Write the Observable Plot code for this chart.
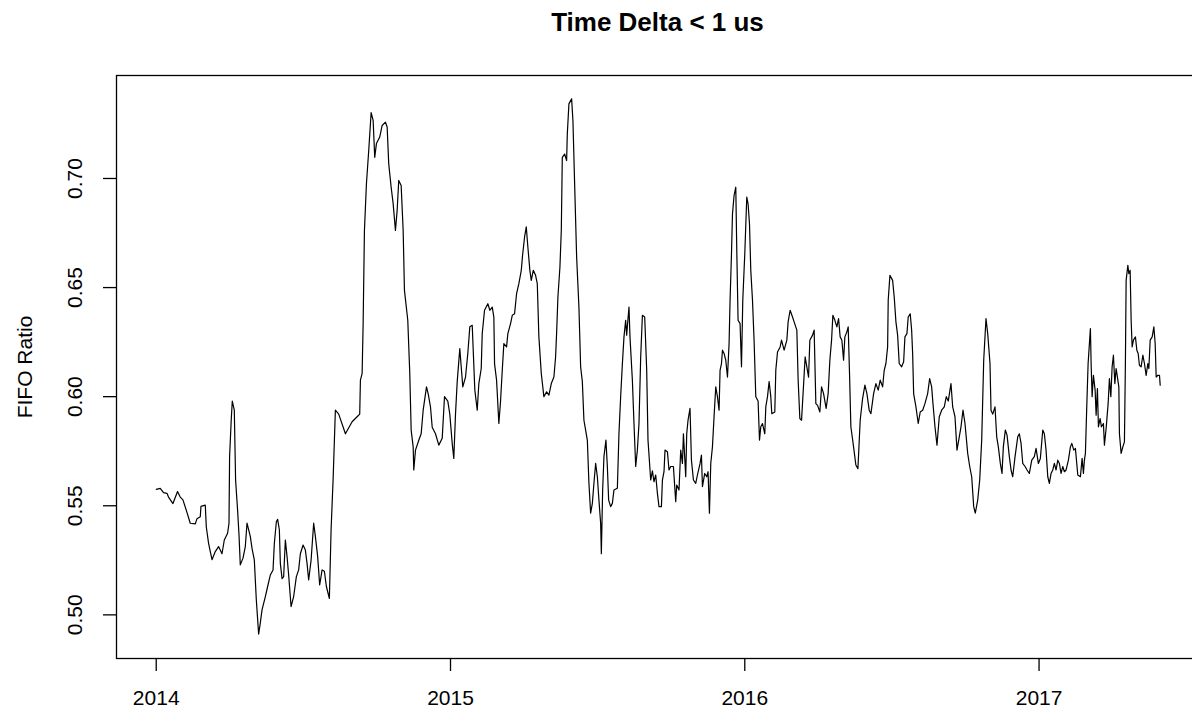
<!DOCTYPE html>
<html>
<head>
<meta charset="utf-8">
<script src="https://cdn.jsdelivr.net/npm/d3@7"></script>
<script src="https://cdn.jsdelivr.net/npm/@observablehq/plot@0.6"></script>
<style>
  html, body { margin: 0; padding: 0; background: #fff; overflow: hidden; }
  #title { box-sizing: border-box; width: 1192px; height: 50px; padding-left: 123px;
    text-align: center; font: bold 26px "Liberation Sans", Arial, sans-serif; line-height: 44px; color: #000; }
  svg { overflow: hidden; }
</style>
</head>
<body>
<div id="title">Time Delta &lt; 1 us</div>
<div id="chart"></div>
<script>
const chartTitle = "Time Delta < 1 us";
const yLabel = "FIFO Ratio";
const xTicks = [2014, 2015, 2016, 2017];
const yTicks = [0.50, 0.55, 0.60, 0.65, 0.70];
const startYear = 2014;

// time in years after 1 Jan 2014
const yearOffset = [
  0, .0136, .0248, .0364, .0418, .0568, .0724, .0816, .0908, .1044,
  .1156, .1327, .1384, .1497, .1520, .1667, .1701, .1779, .1895, .2007,
  .2119, .2235, .2313, .2425, .2473, .2493, .2551, .2585, .2653, .2697,
  .2765, .2813, .2857, .2949, .3027, .3085, .3197, .3255, .3333, .3401,
  .3480, .3537, .3595, .3708, .3786, .3878, .3969, .4014, .4082, .4126,
  .4184, .4218, .4276, .4330, .4388, .4446, .4500, .4582, .4670, .4762,
  .4840, .4898, .4990, .5068, .5126, .5180, .5262, .5350, .5408, .5486,
  .5554, .5636, .5714, .5782, .5884, .5942, .6010, .6088, .6201, .6429,
  .6656, .6827, .6915, .6939, .6997, .7031, .7075, .7143, .7221, .7303,
  .7371, .7425, .7483, .7595, .7677, .7789, .7847, .7901, .7983, .8051,
  .8129, .8187, .8241, .8323, .8391, .8435, .8548, .8616, .8663, .8731,
  .8752, .8810, .8922, .9003, .9071, .9184, .9242, .9320, .9378, .9490,
  .9602, .9718, .9796, .9908, .9976, 1.0058, 1.0112, 1.0170, 1.0228, 1.0316,
  1.0364, 1.0418, 1.0510, 1.0588, 1.0656, 1.0738, 1.0772, 1.0827, 1.0908, 1.0963,
  1.1044, 1.1078, 1.1156, 1.1269, 1.1337, 1.1418, 1.1473, 1.1497, 1.1565, 1.1643,
  1.1701, 1.1759, 1.1813, 1.1905, 1.1949, 1.2041, 1.2099, 1.2177, 1.2245, 1.2323,
  1.2405, 1.2449, 1.2517, 1.2575, 1.2629, 1.2697, 1.2745, 1.2813, 1.2891, 1.2949,
  1.3003, 1.3085, 1.3173, 1.3265, 1.3344, 1.3425, 1.3514, 1.3571, 1.3605, 1.3650,
  1.3718, 1.3765, 1.3799, 1.3878, 1.3946, 1.3969, 1.4024, 1.4116, 1.4160, 1.4218,
  1.4286, 1.4364, 1.4422, 1.4480, 1.4534, 1.4592, 1.4650, 1.4704, 1.4762, 1.4820,
  1.4874, 1.4932, 1.4990, 1.5044, 1.5102, 1.5126, 1.5170, 1.5214, 1.5282, 1.5330,
  1.5374, 1.5442, 1.5500, 1.5554, 1.5670, 1.5724, 1.5782, 1.5840, 1.5895, 1.5952,
  1.5986, 1.6065, 1.6099, 1.6180, 1.6235, 1.6293, 1.6350, 1.6405, 1.6463, 1.6521,
  1.6599, 1.6667, 1.6711, 1.6803, 1.6861, 1.6915, 1.6973, 1.7031, 1.7085, 1.7167,
  1.7201, 1.7255, 1.7289, 1.7371, 1.7425, 1.7483, 1.7575, 1.7619, 1.7653, 1.7687,
  1.7765, 1.7823, 1.7881, 1.7915, 1.7970, 1.7993, 1.8027, 1.8071, 1.8139, 1.8187,
  1.8255, 1.8333, 1.8391, 1.8480, 1.8527, 1.8561, 1.8639, 1.8707, 1.8752, 1.8799,
  1.8844, 1.8901, 1.8956, 1.9014, 1.9071, 1.9126, 1.9160, 1.9208, 1.9242, 1.9296,
  1.9354, 1.9412, 1.9466, 1.9500, 1.9548, 1.9582, 1.9636, 1.9694, 1.9728, 1.9772,
  1.9840, 1.9888, 1.9932, 2.0000, 2.0068, 2.0112, 2.0160, 2.0204, 2.0262, 2.0316,
  2.0374, 2.0452, 2.0500, 2.0544, 2.0602, 2.0680, 2.0714, 2.0772, 2.0827, 2.0884,
  2.0918, 2.1020, 2.1054, 2.1112, 2.1201, 2.1248, 2.1337, 2.1429, 2.1473, 2.1541,
  2.1622, 2.1677, 2.1769, 2.1813, 2.1871, 2.1929, 2.1997, 2.2051, 2.2109, 2.2167,
  2.2211, 2.2303, 2.2357, 2.2415, 2.2473, 2.2551, 2.2609, 2.2677, 2.2765, 2.2833,
  2.2891, 2.2949, 2.2993, 2.3061, 2.3129, 2.3187, 2.3241, 2.3299, 2.3357, 2.3401,
  2.3469, 2.3514, 2.3561, 2.3605, 2.3697, 2.3775, 2.3844, 2.3922, 2.4003, 2.4082,
  2.4150, 2.4228, 2.4286, 2.4378, 2.4456, 2.4534, 2.4602, 2.4684, 2.4738, 2.4796,
  2.4854, 2.4874, 2.4932, 2.5024, 2.5078, 2.5136, 2.5194, 2.5248, 2.5330, 2.5398,
  2.5442, 2.5510, 2.5554, 2.5622, 2.5670, 2.5704, 2.5738, 2.5816, 2.5894, 2.5962,
  2.6044, 2.6122, 2.6214, 2.6282, 2.6350, 2.6395, 2.6463, 2.6531, 2.6609, 2.6690,
  2.6779, 2.6847, 2.6915, 2.7007, 2.7065, 2.7143, 2.7211, 2.7289, 2.7347, 2.7415,
  2.7483, 2.7575, 2.7643, 2.7711, 2.7779, 2.7833, 2.7915, 2.7983, 2.8051, 2.8119,
  2.8197, 2.8255, 2.8333, 2.8367, 2.8425, 2.8503, 2.8561, 2.8616, 2.8684, 2.8741,
  2.8786, 2.8854, 2.8912, 2.8990, 2.9048, 2.9105, 2.9184, 2.9276, 2.9330, 2.9388,
  2.9446, 2.9524, 2.9592, 2.9670, 2.9752, 2.9840, 2.9898, 2.9976, 3.0044, 3.0126,
  3.0180, 3.0238, 3.0296, 3.0350, 3.0408, 3.0466, 3.0520, 3.0578, 3.0636, 3.0690,
  3.0748, 3.0806, 3.0861, 3.0918, 3.0997, 3.1065, 3.1112, 3.1180, 3.1235, 3.1316,
  3.1405, 3.1463, 3.1507, 3.1541, 3.1575, 3.1622, 3.1667, 3.1711, 3.1745, 3.1769,
  3.1803, 3.1847, 3.1905, 3.1939, 3.1983, 3.2017, 3.2075, 3.2119, 3.2187, 3.2221,
  3.2279, 3.2347, 3.2391, 3.2439, 3.2483, 3.2527, 3.2575, 3.2619, 3.2663, 3.2711,
  3.2731, 3.2789, 3.2847, 3.2901, 3.2935, 3.2959, 3.3017, 3.3051, 3.3095, 3.3129,
  3.3163, 3.3207, 3.3275, 3.3323, 3.3367, 3.3411, 3.3469, 3.3527, 3.3581, 3.3639,
  3.3697, 3.3731, 3.3776, 3.3844, 3.3901, 3.3946, 3.3980, 3.4038, 3.4092, 3.4116
];

const fifoRatio = [
  .5575, .558, .556, .5557, .554, .551, .5565, .554, .5527, .547,
  .542, .5417, .544, .545, .5497, .5503, .5404, .5328, .5253, .529,
  .5313, .528, .5343, .5374, .542, .5725, .590, .598, .5938, .5618,
  .548, .5366, .5229, .526, .5313, .542, .536, .5305, .5252, .5069,
  .4912, .4963, .5023, .5084, .513, .5183, .5206, .5328, .5427, .5438,
  .539, .5235, .5166, .5175, .5343, .5267, .5183, .5038, .5084, .5175,
  .5206, .528, .532, .5297, .5235, .516, .525, .542, .536, .5267,
  .5137, .5206, .520, .513, .5075, .539, .5618, .5938, .592, .583,
  .5885, .5908, .592, .6076, .6107, .6335, .6762, .6976, .7128, .7302,
  .7266, .7097, .716, .719, .7243, .7258, .7236, .7067, .696, .6885,
  .6762, .6854, .6991, .6968, .6762, .6487, .635, .6106, .5847, .577,
  .5664, .5755, .580, .583, .5938, .6045, .6013, .5953, .586, .583,
  .5778, .5809, .600, .598, .592, .5786, .5717, .592, .6069, .622,
  .6137, .6045, .609, .6198, .632, .6327, .6213, .603, .5938, .606,
  .6129, .6289, .6396, .6426, .6396, .641, .6365, .615, .6076, .5877,
  .598, .6121, .6243, .6228, .6289, .6335, .6373, .638, .6472, .6518,
  .6579, .6648, .6732, .6778, .6686, .6579, .6533, .6579, .6556, .6518,
  .6274, .6106, .600, .6022, .6007, .606, .609, .6182, .6289, .6457,
  .6593, .6762, .7097, .7112, .7082, .7204, .7342, .7365, .7266, .6976,
  .664, .6411, .6137, .6069, .5892, .5847, .580, .5603, .5466, .5511,
  .5603, .5694, .5633, .5526, .542, .528, .5572, .5725, .5801, .568,
  .5526, .5496, .5511, .5572, .558, .583, .600, .615, .6274, .635,
  .6282, .6411, .6274, .6076, .5877, .568, .5755, .5877, .6182, .6373,
  .6365, .6121, .5801, .5618, .566, .561, .5641, .5557, .5496, .5496,
  .5618, .5656, .5755, .5748, .5664, .568, .568, .5588, .5519, .5595,
  .5572, .5755, .5694, .583, .5694, .5633, .583, .5892, .5946, .5709,
  .5618, .5603, .5641, .5694, .5732, .5588, .5648, .5633, .5656, .5466,
  .5694, .577, .5908, .6045, .600, .5938, .6121, .6152, .6213, .6198,
  .6167, .609, .6243, .6442, .6655, .6838, .6922, .696, .6671, .635,
  .6335, .6137, .6442, .6655, .6915, .6884, .6792, .6579, .6442, .6259,
  .600, .598, .5801, .5862, .5877, .583, .5953, .600, .6069, .600,
  .5922, .593, .6121, .6205, .6228, .6259, .6213, .6259, .6343, .6396,
  .6365, .6343, .6305, .6076, .590, .5892, .6053, .6182, .6137, .609,
  .6259, .6282, .6305, .5968, .596, .593, .6045, .6014, .5946, .6014,
  .6167, .6259, .6373, .635, .632, .6358, .6274, .6259, .6167, .6274,
  .6297, .632, .6098, .5862, .577, .5687, .567, .5892, .5991, .6053,
  .6014, .5938, .5922, .6014, .606, .603, .6076, .6045, .6121, .6152,
  .6228, .6442, .6556, .6533, .6457, .6343, .6282, .6152, .6137, .616,
  .6274, .6289, .6365, .638, .6305, .6198, .6014, .5953, .5877, .593,
  .5938, .5968, .6014, .6083, .6045, .5968, .5862, .5778, .5908, .5938,
  .5953, .600, .598, .606, .5953, .5908, .5755, .5816, .5862, .5938,
  .5877, .574, .568, .5633, .5496, .5466, .5526, .5618, .5801, .6167,
  .6358, .6289, .6152, .5938, .592, .5953, .5816, .577, .5694, .5648,
  .577, .5847, .5824, .5725, .5664, .5633, .5725, .5816, .583, .5786,
  .5694, .568, .5664, .5648, .5709, .5725, .5763, .5694, .5717, .5847,
  .583, .5755, .5633, .5603, .5648, .5664, .5694, .5664, .5709, .5694,
  .5648, .568, .5656, .5664, .5709, .577, .5786, .5755, .5763, .5641,
  .5633, .5717, .5648, .5709, .574, .596, .6152, .6243, .6312, .6152,
  .600, .6098, .603, .5915, .6037, .5862, .590, .5862, .5877, .5778,
  .5854, .5968, .6083, .600, .6137, .619, .606, .6129, .609, .6045,
  .583, .574, .577, .5793, .6167, .6533, .6602, .6564, .6579, .635,
  .6228, .6259, .6274, .6213, .6198, .6144, .6137, .619, .6152, .6098,
  .6152, .6129, .6259, .6274, .632, .6243, .609, .6098, .6098, .6053
];

if (yearOffset.length !== fifoRatio.length) console.error("length mismatch", yearOffset.length, fifoRatio.length);

const data = yearOffset.map((o, i) => ({t: startYear + o, v: fifoRatio[i]}));

const font = '"Liberation Sans", Arial, sans-serif';
const fs = 21;

const chart = Plot.plot({
  width: 1192,
  height: 661,
  marginTop: 25,
  marginBottom: 53,
  marginLeft: 116,
  marginRight: -8,
  style: {fontFamily: font, fontSize: fs + "px", color: "#000", background: "#fff", overflow: "hidden"},
  x: {domain: [2013.865, 2017.5486], range: [116, 1200]},
  y: {domain: [0.4800, 0.7472]},
  marks: [
    Plot.frame({stroke: "#000", strokeWidth: 1.3}),
    Plot.axisX({ticks: xTicks, tickSize: 13, tickPadding: 19, tickFormat: d => String(d), fontSize: fs, label: null, stroke: "#000", strokeWidth: 1.3}),
    Plot.axisY({ticks: yTicks, tickSize: 13, tickFormat: () => "", label: null, stroke: "#000", strokeWidth: 1.3}),
    Plot.text(yTicks, {y: d => d, text: d => d.toFixed(2), frameAnchor: "left", dx: -41, rotate: -90, fontSize: fs, textAnchor: "middle", lineAnchor: "middle", fill: "#000"}),
    Plot.text([yLabel], {text: d => d, frameAnchor: "left", dx: -91, rotate: -90, fontSize: fs, textAnchor: "middle", lineAnchor: "middle", fill: "#000"}),
    Plot.line(data, {x: "t", y: "v", stroke: "#000", strokeWidth: 1.2})
  ]
});
document.getElementById("chart").appendChild(chart);
</script>
</body>
</html>
